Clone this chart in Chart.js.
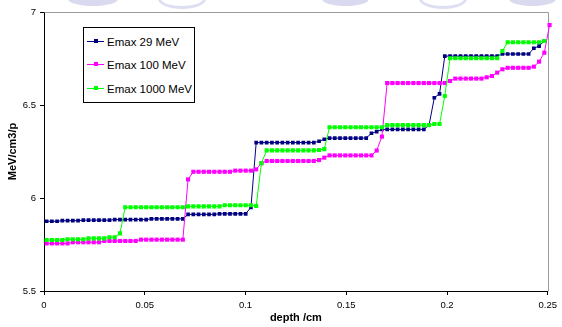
<!DOCTYPE html>
<html>
<head>
<meta charset="utf-8">
<script src="https://cdn.jsdelivr.net/npm/chart.js@4.4.1/dist/chart.umd.min.js"></script>
<style>
  html, body { margin: 0; padding: 0; background: #fff; }
  .wrap { position: relative; width: 562px; height: 327px; overflow: hidden; font-family: "Liberation Sans", Arial, sans-serif; }
  .wrap canvas { position: absolute; left: 0; top: 0; }
  .blob { position: absolute; top: -8px; height: 14px; border-radius: 50%; background: #d9d9ef; }
  .blob.ring { background: #fff; border: 3px solid #dedef2; top: -11px; }
  .legend { position: absolute; left: 83px; top: 27px; width: 110px; height: 74px; border: 1px solid #000; background: #fff; }
  .legend .row { position: absolute; left: 0; height: 14px; font-size: 11.5px; line-height: 14px; color: #000; white-space: nowrap; }
  .legend .sample { position: absolute; left: 3px; top: 6px; width: 17px; height: 1px; }
  .legend .mark { position: absolute; left: 7px; top: -2px; width: 4px; height: 4px; }
  .legend .txt { position: absolute; left: 23px; top: 0; }
</style>
</head>
<body>
<div class="wrap">
  <div class="blob" style="left:68px;width:50px"></div>
  <div class="blob ring" style="left:158px;width:42px"></div>
  <div class="blob" style="left:322px;width:47px"></div>
  <div class="blob ring" style="left:419px;width:42px"></div>
  <div class="blob" style="left:509px;width:47px"></div>
  <canvas id="doseChart" width="562" height="327"></canvas>
  <div class="legend" id="legend"></div>
</div>
<script>
const depthCm = [
  0.0013, 0.0039, 0.0065, 0.0091, 0.0117, 0.0143, 0.0169, 0.0195, 0.0221, 0.0247,
  0.0273, 0.0299, 0.0325, 0.0351, 0.0377, 0.0403, 0.0429, 0.0455, 0.0481, 0.0507,
  0.0533, 0.0559, 0.0585, 0.0611, 0.0637, 0.0663, 0.0689, 0.0715, 0.0741, 0.0767,
  0.0793, 0.0819, 0.0845, 0.0871, 0.0897, 0.0923, 0.0949, 0.0975, 0.1001, 0.1027,
  0.1053, 0.1079, 0.1105, 0.1131, 0.1157, 0.1183, 0.1209, 0.1235, 0.1261, 0.1287,
  0.1313, 0.1339, 0.1365, 0.1391, 0.1417, 0.1443, 0.1469, 0.1495, 0.1521, 0.1547,
  0.1573, 0.1599, 0.1625, 0.1651, 0.1677, 0.1703, 0.1729, 0.1755, 0.1781, 0.1807,
  0.1833, 0.1859, 0.1885, 0.1911, 0.1937, 0.1963, 0.1989, 0.2015, 0.2041, 0.2067,
  0.2093, 0.2119, 0.2145, 0.2171, 0.2197, 0.2223, 0.2249, 0.2275, 0.2301, 0.2327,
  0.2353, 0.2379, 0.2405, 0.2431, 0.2457, 0.2483, 0.2509
];

const emax29 = [
  5.875, 5.875, 5.875, 5.878, 5.878, 5.878, 5.878, 5.881, 5.881, 5.881,
  5.881, 5.881, 5.881, 5.884, 5.884, 5.884, 5.884, 5.884, 5.884, 5.884,
  5.888, 5.888, 5.888, 5.888, 5.888, 5.888, 5.888, 5.912, 5.912, 5.912,
  5.912, 5.912, 5.912, 5.915, 5.915, 5.915, 5.915, 5.915, 5.915, 5.95,
  6.298, 6.298, 6.298, 6.298, 6.298, 6.298, 6.298, 6.298, 6.298, 6.298,
  6.298, 6.298, 6.305, 6.316, 6.322, 6.322, 6.322, 6.322, 6.322, 6.322,
  6.322, 6.322, 6.348, 6.357, 6.369, 6.369, 6.369, 6.369, 6.369, 6.369,
  6.369, 6.369, 6.369, 6.392, 6.539, 6.56, 6.763, 6.763, 6.763, 6.763,
  6.763, 6.763, 6.763, 6.763, 6.763, 6.763, 6.763, 6.774, 6.774, 6.774,
  6.774, 6.774, 6.774, 6.805, 6.817, 6.844
];

const emax100 = [
  5.756, 5.756, 5.756, 5.756, 5.756, 5.762, 5.762, 5.762, 5.762, 5.762,
  5.762, 5.769, 5.769, 5.769, 5.769, 5.769, 5.769, 5.769, 5.776, 5.776,
  5.776, 5.776, 5.776, 5.776, 5.776, 5.776, 5.776, 6.10, 6.141, 6.141,
  6.141, 6.141, 6.141, 6.141, 6.141, 6.141, 6.147, 6.147, 6.147, 6.147,
  6.154, 6.187, 6.199, 6.199, 6.199, 6.199, 6.199, 6.199, 6.199, 6.199,
  6.199, 6.199, 6.204, 6.217, 6.229, 6.229, 6.229, 6.229, 6.229, 6.229,
  6.229, 6.229, 6.229, 6.255, 6.33, 6.618, 6.618, 6.618, 6.618, 6.618,
  6.618, 6.618, 6.618, 6.618, 6.618, 6.618, 6.618, 6.629, 6.642, 6.642,
  6.642, 6.642, 6.642, 6.642, 6.649, 6.656, 6.674, 6.692, 6.70, 6.70,
  6.70, 6.70, 6.70, 6.706, 6.733, 6.781, 6.93
];

const emax1000 = [
  5.774, 5.774, 5.774, 5.774, 5.778, 5.778, 5.778, 5.778, 5.783, 5.783,
  5.783, 5.783, 5.789, 5.789, 5.81, 5.95, 5.95, 5.95, 5.95, 5.95,
  5.95, 5.95, 5.95, 5.95, 5.95, 5.95, 5.95, 5.955, 5.955, 5.955,
  5.955, 5.955, 5.955, 5.955, 5.961, 5.961, 5.961, 5.961, 5.961, 5.961,
  5.957, 6.187, 6.256, 6.256, 6.256, 6.256, 6.256, 6.256, 6.256, 6.256,
  6.256, 6.256, 6.258, 6.263, 6.38, 6.38, 6.38, 6.38, 6.38, 6.38,
  6.38, 6.38, 6.38, 6.38, 6.38, 6.392, 6.392, 6.392, 6.392, 6.392,
  6.392, 6.392, 6.392, 6.392, 6.398, 6.398, 6.548, 6.751, 6.751, 6.751,
  6.751, 6.751, 6.751, 6.751, 6.751, 6.751, 6.751, 6.79, 6.837, 6.837,
  6.837, 6.837, 6.837, 6.837, 6.837, 6.844
];

const depthTicks = [0, 0.05, 0.1, 0.15, 0.2, 0.25];
const doseTicks = [5.5, 6, 6.5, 7];

const toPoints = (values) => values.map((v, i) => ({ x: depthCm[i], y: v }));
const fmt = (v) => String(+v.toFixed(2));

const seriesStyle = (color, radius) => ({
  borderColor: color,
  backgroundColor: color,
  borderWidth: 1,
  pointStyle: 'rect',
  pointRadius: radius,
  pointBorderWidth: 0,
  pointBackgroundColor: color,
  tension: 0,
  fill: false
});

// gray top/right frame of the plot area
const plotFrame = {
  id: 'plotFrame',
  beforeDatasetsDraw(chart) {
    const { ctx, chartArea: a } = chart;
    ctx.save();
    ctx.strokeStyle = '#9a9a9a';
    ctx.lineWidth = 1;
    ctx.beginPath();
    ctx.moveTo(Math.round(a.left) + 0.5, Math.round(a.top) + 0.5);
    ctx.lineTo(Math.round(a.right) + 0.5, Math.round(a.top) + 0.5);
    ctx.lineTo(Math.round(a.right) + 0.5, Math.round(a.bottom) + 0.5);
    ctx.stroke();
    ctx.restore();
  }
};

const tickFont = { family: '"Liberation Sans", Arial, sans-serif', size: 9.5 };
const titleFont = { family: '"Liberation Sans", Arial, sans-serif', size: 11, weight: 'bold' };

const chart = new Chart(document.querySelector('#doseChart'), {
  type: 'line',
  data: {
    datasets: [
      { label: 'Emax 1000 MeV', data: toPoints(emax1000), order: 1, ...seriesStyle('#00ff00', 2.9) },
      { label: 'Emax 100 MeV', data: toPoints(emax100), order: 2, clip: false, ...seriesStyle('#ff00ff', 2.9) },
      { label: 'Emax 29 MeV', data: toPoints(emax29), order: 3, ...seriesStyle('#000080', 2.6) }
    ]
  },
  options: {
    responsive: false,
    animation: false,
    events: [],
    layout: { padding: { left: 0, right: 9, top: 12, bottom: 0 } },
    plugins: { legend: { display: false }, tooltip: { enabled: false } },
    scales: {
      x: {
        type: 'linear',
        min: 0,
        max: 0.25,
        afterBuildTicks: (scale) => { scale.ticks = depthTicks.map((v) => ({ value: v })); },
        afterFit: (scale) => { scale.height = 36; },
        ticks: { color: '#000', font: tickFont, padding: 5, maxRotation: 0, callback: fmt },
        grid: { drawOnChartArea: false, drawTicks: true, tickLength: 4, color: '#000' },
        border: { display: true, color: '#000', width: 1 },
        title: { display: true, text: 'depth /cm', color: '#000', font: titleFont, padding: { top: 0, bottom: 2 } }
      },
      y: {
        type: 'linear',
        min: 5.5,
        max: 7,
        afterBuildTicks: (scale) => { scale.ticks = doseTicks.map((v) => ({ value: v })); },
        afterFit: (scale) => { scale.width = 44; },
        ticks: { color: '#000', font: tickFont, padding: 4, callback: fmt },
        grid: { drawOnChartArea: false, drawTicks: true, tickLength: 4, color: '#000' },
        border: { display: true, color: '#000', width: 1 },
        title: { display: true, text: 'MeV/cm3/p', color: '#000', font: titleFont, padding: { top: 6, bottom: 0 } }
      }
    }
  },
  plugins: [plotFrame]
});

// legend box inside the plot, in the series' original order
const legendBox = document.querySelector('#legend');
const legendOrder = [2, 1, 0];
legendOrder.forEach((dsIndex, row) => {
  const ds = chart.data.datasets[dsIndex];
  const div = document.createElement('div');
  div.className = 'row';
  div.style.top = (6.5 + row * 23.8) + 'px';
  div.innerHTML =
    `<span class="sample" style="background:${ds.borderColor}">` +
    `<span class="mark" style="background:${ds.borderColor}"></span></span>` +
    `<span class="txt">${ds.label}</span>`;
  legendBox.appendChild(div);
});
</script>
</body>
</html>
